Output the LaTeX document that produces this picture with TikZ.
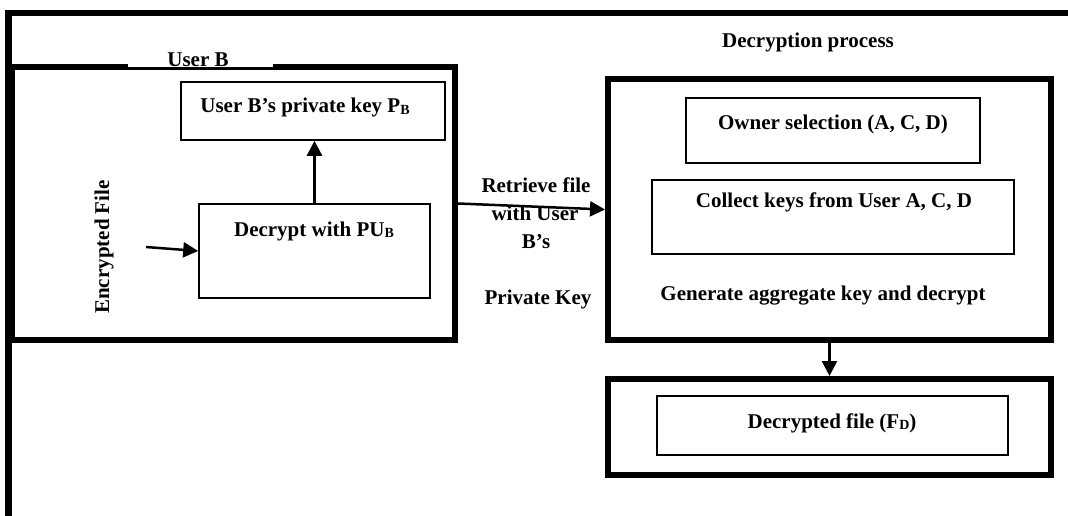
\documentclass[tikz,border=0pt]{standalone}
\usepackage{fontspec}
\setmainfont{Liberation Serif}
\usetikzlibrary{arrows.meta}
\newcommand{\lsub}[1]{{\fontsize{14}{14}\selectfont\raisebox{-1.5pt}{#1}}}
\begin{document}
\begin{tikzpicture}[x=1pt,y=-1pt,
  thickbox/.style={draw,line width=6pt,line join=miter,inner sep=0pt},
  thinbox/.style={draw,line width=1.6pt,inner sep=0pt},
  txt/.style={font=\fontsize{21}{28}\selectfont\bfseries,inner sep=0pt,anchor=base},
  conn/.style={line width=2.5pt,-{Triangle[length=15pt,width=15pt]}}]
\useasboundingbox (0,0) rectangle (1068,516);
\fill[white] (0,0) rectangle (1068,516);
% outer frame
\draw[line width=6.5pt,line join=miter] (8.5,516) -- (8.5,13) -- (1068,13);
% User B box
\node[thickbox,minimum width=443pt,minimum height=273pt] (ub) at (233.5,203.5) {};
\node[fill=white,inner sep=0pt,minimum width=145pt,minimum height=28pt,anchor=south] (ublab) at (200.5,67.5) {};
\node[txt] (ubt) at (198,67) {User B};
\node[thinbox,minimum width=264pt,minimum height=58pt] (pk) at (313,111) {};
\node[txt] (pkt) at (305,113) {User B’s private key P\lsub{B}};
\node[thinbox,minimum width=231pt,minimum height=94pt] (dec) at (314.5,251) {};
\node[txt] (dect) at (314,236) {Decrypt with PU\lsub{B}};
\node[txt,rotate=90] (enct) at (109,247) {Encrypted File};
\coordinate (encA) at (146,247);
% Decryption process
\node[txt] (dpt) at (808,48) {Decryption process};
\node[thickbox,minimum width=443pt,minimum height=261pt] (rb) at (829.5,209.5) {};
\node[thinbox,minimum width=294pt,minimum height=65pt] (ow) at (833,130.5) {};
\node[txt] (owt) at (833,130) {Owner selection (A, C, D)};
\node[thinbox,minimum width=362pt,minimum height=74pt] (col) at (833,217) {};
\node[txt] (colt) at (834,207) {Collect keys from User A, C, D};
\node[txt] (gent) at (823,300) {Generate aggregate key and decrypt};
\node[thickbox,minimum width=443pt,minimum height=96pt] (bb) at (829.5,427) {};
\node[thinbox,minimum width=351pt,minimum height=59pt] (df) at (832.5,425.5) {};
\node[txt] (dft) at (832,428) {Decrypted file (F\lsub{D})};
% middle text
\node[txt] (r1) at (536,192) {Retrieve file};
\node[txt] (r2) at (535,220) {with User};
\node[txt] (r3) at (536,248) {B’s};
\node[txt] (r4) at (538,304) {Private Key};
% connectors
\draw[conn] (encA) -- (dec.west);
\draw[conn] (dec.north) -- (dec.north |- pk.south);
\draw[conn] (ub.east) -- (rb.west);
\draw[conn] (rb.south) -- (bb.north);
\end{tikzpicture}
\end{document}
